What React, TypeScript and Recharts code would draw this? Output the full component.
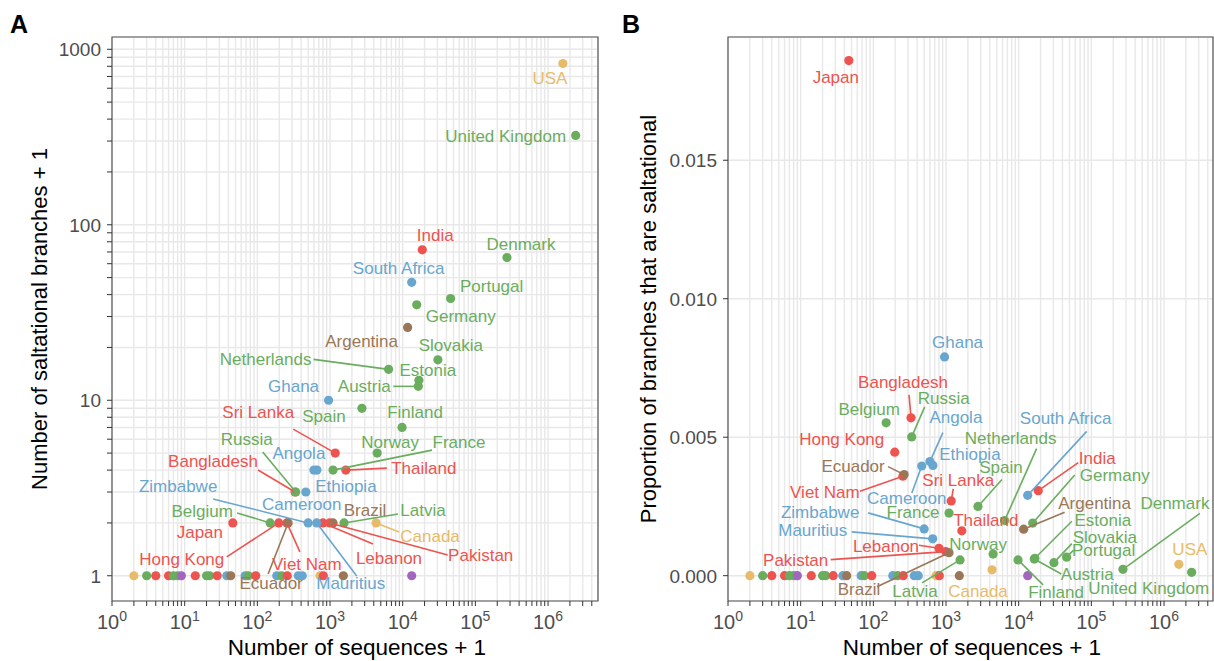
import React from 'react';
import { ScatterChart, Scatter, XAxis, YAxis, CartesianGrid, ReferenceArea } from 'recharts';

const FONT = '"Liberation Sans", Arial, Helvetica, sans-serif';

// one entry per country; unnamed entries are the unlabelled points
const countries = [
  'Japan', 'India', 'Sri Lanka', 'Thailand', 'Bangladesh', 'Hong Kong', 'Viet Nam', 'Lebanon', 'Pakistan',
  'USA', 'Canada',
  'United Kingdom', 'Denmark', 'Portugal', 'Germany', 'Slovakia', 'Estonia', 'Austria', 'Netherlands',
  'Spain', 'Finland', 'Norway', 'France', 'Russia', 'Belgium', 'Latvia',
  'South Africa', 'Ghana', 'Angola', 'Ethiopia', 'Cameroon', 'Zimbabwe', 'Mauritius',
  'Argentina', 'Brazil', 'Ecuador',
  '', '', '', '', '', '', '', '', '', '', '', '', '', '', '', '', '', '', '', '', '', '', '', '', '',
];

const regions = [
  'Asia', 'Asia', 'Asia', 'Asia', 'Asia', 'Asia', 'Asia', 'Asia', 'Asia',
  'North America', 'North America',
  'Europe', 'Europe', 'Europe', 'Europe', 'Europe', 'Europe', 'Europe', 'Europe',
  'Europe', 'Europe', 'Europe', 'Europe', 'Europe', 'Europe', 'Europe',
  'Africa', 'Africa', 'Africa', 'Africa', 'Africa', 'Africa', 'Africa',
  'South America', 'South America', 'South America',
  'North America', 'Europe', 'Asia', 'Asia', 'Europe', 'Europe', 'Oceania', 'Asia', 'Europe', 'Europe',
  'Asia', 'Africa', 'South America', 'Africa', 'Europe', 'Asia', 'Africa', 'Europe', 'Asia', 'Africa',
  'Africa', 'North America', 'Asia', 'South America', 'Oceania',
];

const sequencesPlusOne = [
  46, 18600, 1180, 1650, 330, 197, 255, 800, 990,
  1.6e6, 4300,
  2.4e6, 272000, 45700, 15600, 30500, 16700, 16400, 6400,
  2750, 9800, 4450, 1100, 337, 150, 1560,
  13300, 955, 600, 660, 464, 500, 656,
  11700, 1100, 265,
  2, 3, 4, 6, 7, 8, 9, 14, 20, 22,
  28, 38, 43, 68, 75, 95, 185, 216, 258, 366,
  415, 728, 809, 1525, 13300,
];

const saltationalPlusOne = [
  2, 72, 5, 4, 3, 2, 2, 2, 2,
  830, 2,
  323, 65, 38, 35, 17, 13, 12, 15,
  9, 7, 5, 4, 3, 2, 2,
  47, 10, 4, 4, 3, 2, 2,
  26, 2, 2,
  1, 1, 1, 1, 1, 1, 1, 1, 1, 1,
  1, 1, 1, 1, 1, 1, 1, 1, 1, 1,
  1, 1, 1, 1, 1,
];

const saltationalProportion = [
  0.0186, 0.00307, 0.0027, 0.00162, 0.0057, 0.00446, 0.00359, 0.00099, 0.00087,
  0.00041, 0.00021,
  0.00012, 0.00023, 0.00067, 0.0019, 0.00047, 0.00063, 0.0006, 0.00199,
  0.0025, 0.00057, 0.00078, 0.00226, 0.00501, 0.00552, 0.00057,
  0.0029, 0.0079, 0.00412, 0.00398, 0.00396, 0.00169, 0.00133,
  0.00168, 0.00083, 0.00365,
  0, 0, 0, 0, 0, 0, 0, 0, 0, 0,
  0, 0, 0, 0, 0, 0, 0, 0, 0, 0,
  0, 0, 0, 0, 0,
];

const regionColors: Record<string, string> = {
  Asia: '#EE534F',
  Europe: '#6AAD5E',
  Africa: '#68A6CF',
  'North America': '#E8BB6A',
  'South America': '#9A7758',
  Oceania: '#A267BD',
};

const decadeStarts = [1, 10, 100, 1000, 10000, 100000, 1000000];
const minorSteps = [1, 2, 3, 4, 5, 6, 7, 8, 9];
const yTicksB = [0, 0.005, 0.01, 0.015];

const xDomainA: [number, number] = [1, 4.87e6];
const xDomainB: [number, number] = [1, 4.72e6];
const yDomainA: [number, number] = [0.718, 1175];
const yDomainB: [number, number] = [-0.000914, 0.01945];

const logTicks = (max: number) =>
  decadeStarts.flatMap((d) => minorSteps.map((m) => d * m)).filter((v) => v <= max);

const dataA = countries.map((name, i) => ({
  name,
  region: regions[i],
  x: sequencesPlusOne[i],
  y: saltationalPlusOne[i],
}));

const dataB = countries.map((name, i) => ({
  name,
  region: regions[i],
  x: sequencesPlusOne[i],
  y: saltationalProportion[i],
}));

// label placement relative to its point in px: [text dx, text dy, segment end dx, segment end dy]
type Spot = [number, number] | [number, number, number, number];

const labelsA: Record<string, Spot> = {
  USA: [-13, 15],
  'United Kingdom': [-70, 1],
  India: [13, -15],
  Denmark: [14, -14],
  'South Africa': [-13, -14],
  Portugal: [41, -13],
  Germany: [44, 11],
  Argentina: [-46, 14],
  Slovakia: [13, -15],
  Estonia: [9, -10],
  Austria: [-54, 0, -25, 0],
  Netherlands: [-123, -10, -75, -10],
  Spain: [-38, 8],
  Ghana: [-35, -14],
  Finland: [13, -15],
  'Sri Lanka': [-77, -41, -42, -24],
  Norway: [13, -11],
  France: [126, -28, 99, -20],
  Russia: [-49, -53, -33, -40],
  Angola: [-15, -17],
  Thailand: [78, -2, 41, -2],
  Bangladesh: [-82, -31, -37, -22],
  Ethiopia: [29, 16],
  Cameroon: [-4, 12],
  Zimbabwe: [-130, -37, -95, -24],
  Belgium: [-68, -12, -33, -10],
  Brazil: [32, -13],
  Latvia: [79, -13, 54, -9],
  Canada: [54, 13, 23, 9],
  Japan: [-33, 9],
  'Hong Kong': [-97, 36, -52, 34],
  'Viet Nam': [20, 41, 13, 29],
  Ecuador: [-17, 60, -20, 51],
  Mauritius: [34, 60, 40, 53],
  Lebanon: [66, 35, 50, 21],
  Pakistan: [151, 32, 118, 32],
};

const labelsB: Record<string, Spot> = {
  Japan: [-13, 16],
  Ghana: [13, -15],
  Bangladesh: [-8, -36, -2, -23],
  Russia: [32, -39, 13, -30],
  Belgium: [-17, -14],
  Angola: [26, -45, 13, -29],
  'Hong Kong': [-53, -13],
  'South Africa': [38, -77, 59, -64],
  Netherlands: [6, -83, 32, -72],
  Ethiopia: [37, -11],
  Ecuador: [-51, -9, -16, -8],
  Spain: [23, -39, 24, -27],
  'Sri Lanka': [7, -21, 2, -12],
  India: [59, -33, 40, -28],
  Germany: [82, -48, 42, -48],
  'Viet Nam': [-78, 16, -43, 15],
  Cameroon: [-15, 32, -10, 27],
  Argentina: [71, -26, 41, -17],
  Denmark: [52, -66, 77, -56],
  Zimbabwe: [-104, -17, -56, -16],
  France: [-36, -1],
  Estonia: [68, -38, 37, -37],
  Thailand: [24, -11],
  Mauritius: [-120, -9, -81, -7],
  Slovakia: [51, -26, 18, -19],
  Norway: [-15, -10],
  Lebanon: [-53, -2, -20, -3],
  Portugal: [37, -7, 7, -7],
  Pakistan: [-150, 8, -115, 8],
  USA: [11, -15],
  Austria: [53, 15, 27, 15],
  Brazil: [-90, 36, -72, 34],
  Latvia: [-45, 31, -38, 23],
  Canada: [-14, 21],
  Finland: [38, 32, 25, 25],
  'United Kingdom': [-43, 16],
};

const Dot = (p: any) => (
  <circle cx={p.cx} cy={p.cy} r={4.6} fill={regionColors[p.payload.region]} />
);

function labelShape(placement: Record<string, Spot>) {
  return (p: any) => {
    const name = p.payload.name;
    const spot = placement[name];
    if (!spot) return <g />;
    const color = regionColors[p.payload.region];
    const tx = p.cx + spot[0];
    const ty = p.cy + spot[1];
    return (
      <g>
        {spot.length === 4 && (
          <line
            x1={p.cx}
            y1={p.cy}
            x2={p.cx + spot[2]}
            y2={p.cy + spot[3]}
            stroke={color}
            strokeWidth={1.6}
          />
        )}
        <text x={tx} y={ty + 6} textAnchor="middle" fontFamily={FONT} fontSize={17} fill={color}>
          {name}
        </text>
      </g>
    );
  };
}

const isPow10 = (v: number) => Math.abs(Math.log10(v) - Math.round(Math.log10(v))) < 1e-6;

const PowerTick = (p: any) => {
  const v = p.payload.value;
  if (!isPow10(v)) return <g />;
  return (
    <text x={p.x} y={p.y + 21} textAnchor="middle" fontFamily={FONT} fontSize={20} fill="#4D4D4D">
      <tspan>10</tspan>
      <tspan dy={-8} fontSize={14}>
        {Math.round(Math.log10(v))}
      </tspan>
    </text>
  );
};

const LogYTick = (p: any) => {
  const v = p.payload.value;
  if (!isPow10(v)) return <g />;
  return (
    <text x={p.x - 4} y={p.y + 7} textAnchor="end" fontFamily={FONT} fontSize={19} fill="#4D4D4D">
      {v}
    </text>
  );
};

const PropTick = (p: any) => (
  <text x={p.x - 4} y={p.y + 7} textAnchor="end" fontFamily={FONT} fontSize={19} fill="#4D4D4D">
    {Number(p.payload.value).toFixed(3)}
  </text>
);

const gridStroke = '#E8E8E8';
const borderStroke = '#555555';

function PanelA() {
  return (
    <ScatterChart width={610} height={661} margin={{ top: 37, right: 12, bottom: 0, left: 0 }}>
      <CartesianGrid stroke={gridStroke} strokeWidth={1.4} />
      <XAxis
        type="number"
        dataKey="x"
        scale="log"
        domain={xDomainA}
        allowDataOverflow
        ticks={logTicks(xDomainA[1])}
        interval={0}
        tick={PowerTick}
        tickLine={{ stroke: '#333333' }}
        tickSize={5}
        tickMargin={2}
        axisLine={false}
        height={60}
      />
      <YAxis
        type="number"
        dataKey="y"
        scale="log"
        domain={yDomainA}
        allowDataOverflow
        ticks={logTicks(1000)}
        interval={0}
        tick={LogYTick}
        tickLine={{ stroke: '#333333' }}
        tickSize={5}
        tickMargin={2}
        axisLine={false}
        width={112}
      />
      <ReferenceArea
        x1={xDomainA[0]}
        x2={xDomainA[1]}
        y1={yDomainA[0]}
        y2={yDomainA[1]}
        fill="none"
        stroke={borderStroke}
        strokeWidth={1.2}
        ifOverflow="visible"
      />
      <Scatter data={dataA} shape={Dot} isAnimationActive={false} />
      <Scatter data={dataA} shape={labelShape(labelsA)} isAnimationActive={false} />
    </ScatterChart>
  );
}

function PanelB() {
  return (
    <ScatterChart width={604} height={661} margin={{ top: 37, right: 1, bottom: 0, left: 0 }}>
      <CartesianGrid stroke={gridStroke} strokeWidth={1.4} />
      <XAxis
        type="number"
        dataKey="x"
        scale="log"
        domain={xDomainB}
        allowDataOverflow
        ticks={logTicks(xDomainB[1])}
        interval={0}
        tick={PowerTick}
        tickLine={{ stroke: '#333333' }}
        tickSize={5}
        tickMargin={2}
        axisLine={false}
        height={60}
      />
      <YAxis
        type="number"
        dataKey="y"
        domain={yDomainB}
        allowDataOverflow
        ticks={yTicksB}
        interval={0}
        tick={PropTick}
        tickLine={{ stroke: '#333333' }}
        tickSize={5}
        tickMargin={2}
        axisLine={false}
        width={118}
      />
      <ReferenceArea
        x1={xDomainB[0]}
        x2={xDomainB[1]}
        y1={yDomainB[0]}
        y2={yDomainB[1]}
        fill="none"
        stroke={borderStroke}
        strokeWidth={1.2}
        ifOverflow="visible"
      />
      <Scatter data={dataB} shape={Dot} isAnimationActive={false} />
      <Scatter data={dataB} shape={labelShape(labelsB)} isAnimationActive={false} />
    </ScatterChart>
  );
}

export default function App() {
  return (
    <div
      style={{
        position: 'absolute',
        left: 0,
        top: 0,
        width: 1214,
        height: 661,
        background: '#fff',
        fontFamily: FONT,
      }}
    >
      <div style={{ position: 'absolute', left: 0, top: 0 }}>
        <PanelA />
      </div>
      <div style={{ position: 'absolute', left: 610, top: 0 }}>
        <PanelB />
      </div>
      <svg
        width={1214}
        height={661}
        style={{ position: 'absolute', left: 0, top: 0, pointerEvents: 'none' }}
      >
        <text x={10} y={33} fontFamily={FONT} fontSize={25} fontWeight="bold" fill="#000">
          A
        </text>
        <text x={622} y={33} fontFamily={FONT} fontSize={25} fontWeight="bold" fill="#000">
          B
        </text>
        <text x={357} y={655} textAnchor="middle" fontFamily={FONT} fontSize={22.5} fill="#000">
          Number of sequences + 1
        </text>
        <text x={972} y={655} textAnchor="middle" fontFamily={FONT} fontSize={22.5} fill="#000">
          Number of sequences + 1
        </text>
        <text
          transform="translate(47,319) rotate(-90)"
          textAnchor="middle"
          fontFamily={FONT}
          fontSize={22}
          fill="#000"
        >
          Number of saltational branches + 1
        </text>
        <text
          transform="translate(656,319) rotate(-90)"
          textAnchor="middle"
          fontFamily={FONT}
          fontSize={22}
          fill="#000"
        >
          Proportion of branches that are saltational
        </text>
      </svg>
    </div>
  );
}
